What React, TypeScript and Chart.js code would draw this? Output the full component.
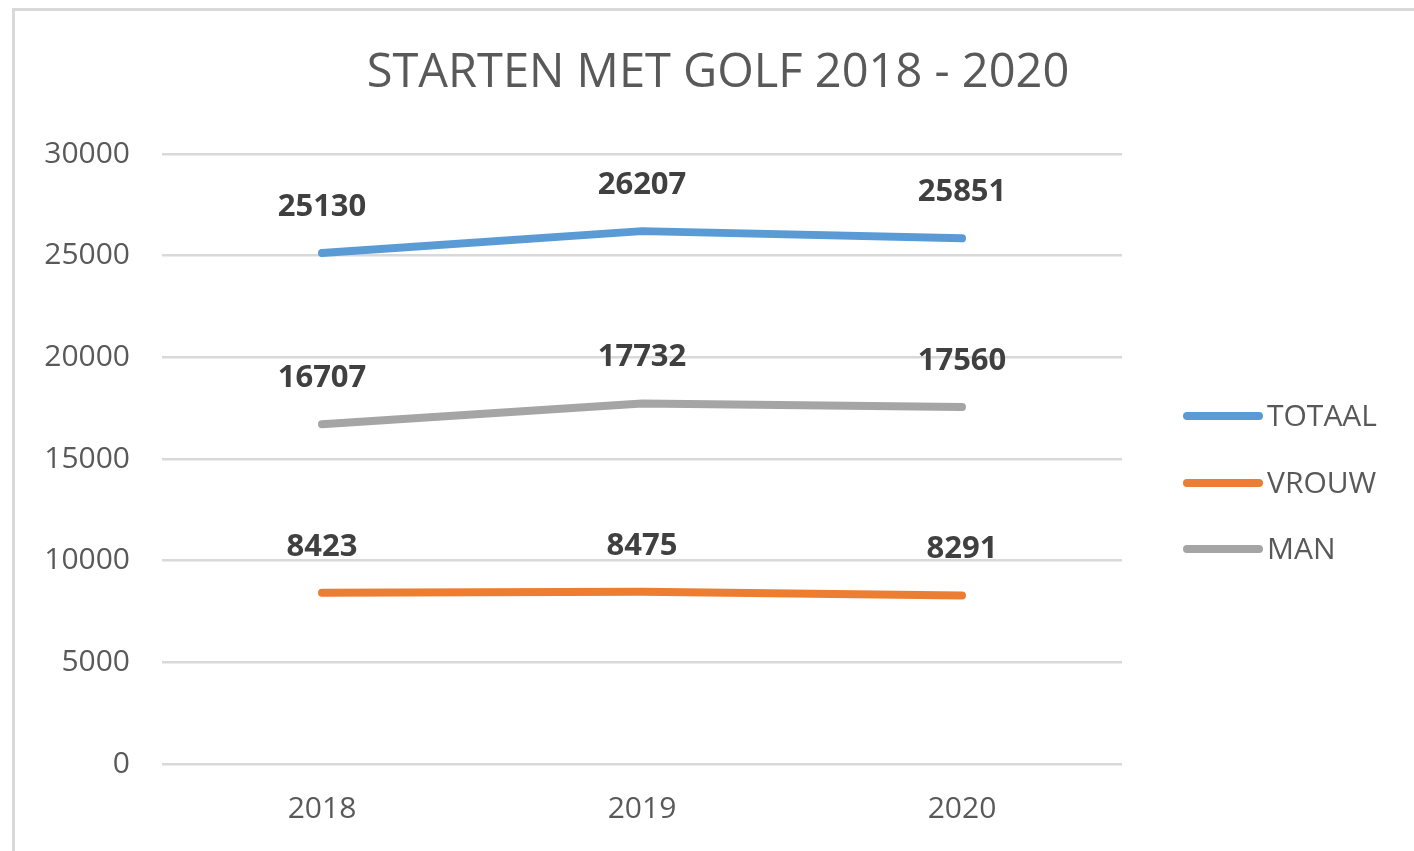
import React, { useEffect, useRef } from "react";
import { Chart, registerables } from "chart.js";

Chart.register(...registerables);

const categories = ["2018", "2019", "2020"];
const totaal = [25130, 26207, 25851];
const vrouw = [8423, 8475, 8291];
const man = [16707, 17732, 17560];
const seriesNames = ["TOTAAL", "VROUW", "MAN"];
const seriesColors = ["#5B9BD5", "#ED7D31", "#A5A5A5"];
const yMin = 0;
const yMax = 30000;
const yStep = 5000;
const titleText = "STARTEN MET GOLF 2018 - 2020";

const FONT = "'Open Sans', 'DejaVu Sans', sans-serif";

const dataLabelPlugin = {
  id: "dataLabels",
  afterDatasetsDraw(chart: any) {
    const ctx = chart.ctx;
    ctx.save();
    ctx.font = `bold 31px ${FONT}`;
    ctx.fillStyle = "#404040";
    ctx.textAlign = "center";
    ctx.textBaseline = "middle";
    chart.data.datasets.forEach((ds: any, i: number) => {
      const meta = chart.getDatasetMeta(i);
      meta.data.forEach((pt: any, j: number) => {
        ctx.fillText(String(ds.data[j]), pt.x, pt.y - 46);
      });
    });
    ctx.restore();
  },
};

const sideLegendPlugin = {
  id: "sideLegend",
  afterDraw(chart: any) {
    const ctx = chart.ctx;
    const area = chart.chartArea;
    const x0 = area.right + 61;
    const rowY = [262, 329, 395];
    ctx.save();
    ctx.font = `30px ${FONT}`;
    ctx.textAlign = "left";
    ctx.textBaseline = "middle";
    chart.data.datasets.forEach((ds: any, i: number) => {
      const y = area.top + rowY[i];
      ctx.strokeStyle = ds.borderColor;
      ctx.lineWidth = 8;
      ctx.lineCap = "round";
      ctx.beginPath();
      ctx.moveTo(x0 + 4, y);
      ctx.lineTo(x0 + 76, y);
      ctx.stroke();
      ctx.fillStyle = "#595959";
      ctx.fillText(ds.label, x0 + 84, y + 1);
    });
    ctx.restore();
  },
};

export default function App() {
  const ref = useRef<HTMLCanvasElement | null>(null);

  useEffect(() => {
    document.body.style.overflow = "hidden";
    const canvas = ref.current;
    if (!canvas) return;
    const seriesData = [totaal, vrouw, man];
    const chart = new Chart(canvas, {
      type: "line",
      data: {
        labels: categories,
        datasets: seriesNames.map((name, i) => ({
          label: name,
          data: seriesData[i],
          borderColor: seriesColors[i],
          backgroundColor: seriesColors[i],
          borderWidth: 8,
          borderCapStyle: "round",
          borderJoinStyle: "round",
          pointRadius: 0,
          pointHoverRadius: 0,
          tension: 0,
          fill: false,
        })),
      },
      options: {
        responsive: false,
        animation: false,
        devicePixelRatio: 1,
        layout: { padding: { top: 10, left: 0, right: 0, bottom: 0 } },
        plugins: {
          legend: { display: false },
          tooltip: { enabled: false },
          title: {
            display: true,
            text: titleText,
            color: "#595959",
            font: { family: FONT, size: 47, weight: "normal" },
            padding: { top: 24, bottom: 52.6 },
          },
        },
        scales: {
          x: {
            type: "category",
            offset: true,
            grid: { display: false },
            border: { display: false },
            ticks: {
              color: "#595959",
              font: { family: FONT, size: 30 },
              padding: 19,
            },
            afterFit: (s: any) => {
              s.height = 87;
            },
          },
          y: {
            type: "linear",
            position: "left",
            min: yMin,
            max: yMax,
            grid: { color: "#d9d9d9", lineWidth: 2.5, drawTicks: false },
            border: { display: false },
            ticks: {
              stepSize: yStep,
              color: "#595959",
              font: { family: FONT, size: 30 },
              padding: 32,
              callback: (v: any) => String(v),
            },
            afterFit: (s: any) => {
              s.width = 147;
            },
          },
          yR: {
            type: "linear",
            position: "right",
            display: true,
            grid: { display: false, drawTicks: false },
            border: { display: false },
            ticks: { display: false },
            afterFit: (s: any) => {
              s.width = 299;
            },
          },
        },
      },
      plugins: [dataLabelPlugin, sideLegendPlugin],
    } as any);
    return () => chart.destroy();
  }, []);

  return (
    <div
      style={{
        position: "fixed",
        left: 12,
        top: 8,
        borderLeft: "3px solid #d9d9d9",
        borderTop: "3px solid #d9d9d9",
        background: "#ffffff",
        width: 1420,
        height: 860,
      }}
    >
      <canvas ref={ref} width={1406} height={840} style={{ display: "block" }} />
    </div>
  );
}
